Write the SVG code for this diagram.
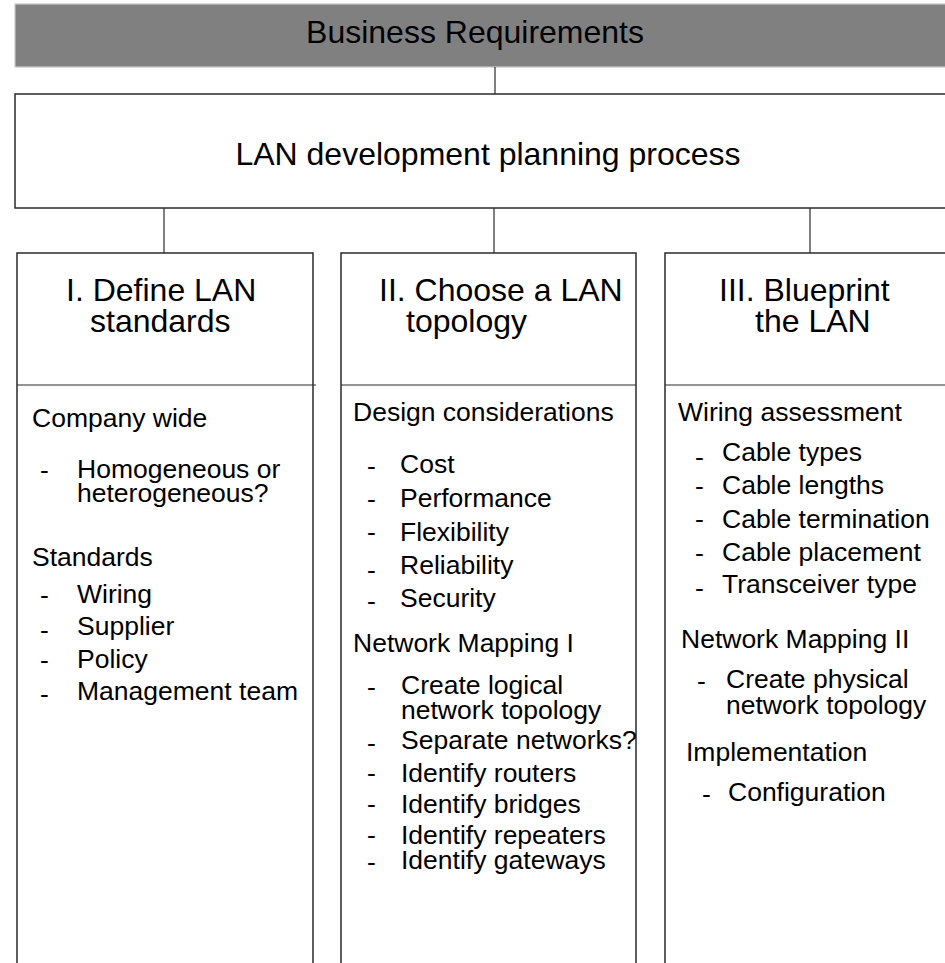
<svg xmlns="http://www.w3.org/2000/svg" width="945" height="963" viewBox="0 0 945 963">
<style>
.box{fill:#fff;stroke:#2a2a2a;stroke-width:1.5}
.ln{stroke:#2a2a2a;stroke-width:1.2;fill:none}
text{font-family:"Liberation Sans",Arial,sans-serif;fill:#000}
.t{font-size:26.5px}
.h{font-size:32px}
.big{font-size:32px}
</style>
<rect width="945" height="963" fill="#fff"/>
<g id="business-requirements">
<rect x="15" y="4" width="940" height="63" fill="#808080" stroke="#c8c8c8" stroke-width="1.2"/>
<text class="big" x="475" y="43" text-anchor="middle">Business Requirements</text>
</g>
<g id="connectors">
<line class="ln" x1="495" y1="67" x2="495" y2="94"/>
<line class="ln" x1="164" y1="208" x2="164" y2="253"/>
<line class="ln" x1="494" y1="208" x2="494" y2="253"/>
<line class="ln" x1="810" y1="208" x2="810" y2="253"/>
</g>
<g id="lan-process">
<rect class="box" x="15" y="94" width="940" height="114"/>
<text class="big" x="488" y="165" text-anchor="middle">LAN development planning process</text>
</g>
<g id="col-1">
<rect class="box" x="17" y="253" width="296" height="720"/>
<line class="ln" x1="17" y1="385" x2="316" y2="385"/>
<text class="h" x="66" y="301">I. Define LAN</text>
<text class="h" x="90" y="332">standards</text>
<text class="t" x="32" y="427">Company wide</text>
<text class="t" x="40" y="479">-</text><text class="t" x="77" y="478">Homogeneous or</text>
<text class="t" x="77" y="502">heterogeneous?</text>
<text class="t" x="32" y="566">Standards</text>
<text class="t" x="40" y="604">-</text><text class="t" x="77" y="603">Wiring</text>
<text class="t" x="40" y="639">-</text><text class="t" x="77" y="635">Supplier</text>
<text class="t" x="40" y="669">-</text><text class="t" x="77" y="668">Policy</text>
<text class="t" x="40" y="703">-</text><text class="t" x="77" y="700">Management team</text>
</g>
<g id="col-2">
<rect class="box" x="341" y="253" width="295" height="720"/>
<line class="ln" x1="341" y1="385" x2="636" y2="385"/>
<text class="h" x="379" y="301">II. Choose a LAN</text>
<text class="h" x="406" y="332">topology</text>
<text class="t" x="353" y="421">Design considerations</text>
<text class="t" x="367" y="475">-</text><text class="t" x="400" y="473">Cost</text>
<text class="t" x="367" y="508">-</text><text class="t" x="400" y="507">Performance</text>
<text class="t" x="367" y="541">-</text><text class="t" x="400" y="541">Flexibility</text>
<text class="t" x="367" y="579">-</text><text class="t" x="400" y="574">Reliability</text>
<text class="t" x="367" y="610">-</text><text class="t" x="400" y="607">Security</text>
<text class="t" x="353" y="652">Network Mapping I</text>
<text class="t" x="367" y="696">-</text><text class="t" x="401" y="694">Create logical</text>
<text class="t" x="401" y="719">network topology</text>
<text class="t" x="367" y="752">-</text><text class="t" x="401" y="749">Separate networks?</text>
<text class="t" x="367" y="782">-</text><text class="t" x="401" y="782">Identify routers</text>
<text class="t" x="367" y="813">-</text><text class="t" x="401" y="813">Identify bridges</text>
<text class="t" x="367" y="844">-</text><text class="t" x="401" y="844">Identify repeaters</text>
<text class="t" x="367" y="871">-</text><text class="t" x="401" y="869">Identify gateways</text>
</g>
<g id="col-3">
<rect class="box" x="665" y="253" width="290" height="720"/>
<line class="ln" x1="665" y1="385" x2="945" y2="385"/>
<text class="h" x="719" y="301">III. Blueprint</text>
<text class="h" x="755" y="332">the LAN</text>
<text class="t" x="678" y="421">Wiring assessment</text>
<text class="t" x="695" y="466">-</text><text class="t" x="722" y="461">Cable types</text>
<text class="t" x="695" y="495">-</text><text class="t" x="722" y="494">Cable lengths</text>
<text class="t" x="695" y="528">-</text><text class="t" x="722" y="528">Cable termination</text>
<text class="t" x="695" y="562">-</text><text class="t" x="722" y="561">Cable placement</text>
<text class="t" x="695" y="597">-</text><text class="t" x="722" y="593">Transceiver type</text>
<text class="t" x="681" y="648">Network Mapping II</text>
<text class="t" x="697" y="690">-</text><text class="t" x="726" y="688">Create physical</text>
<text class="t" x="726" y="714">network topology</text>
<text class="t" x="686" y="761">Implementation</text>
<text class="t" x="702" y="803">-</text><text class="t" x="728" y="801">Configuration</text>
</g>
</svg>
